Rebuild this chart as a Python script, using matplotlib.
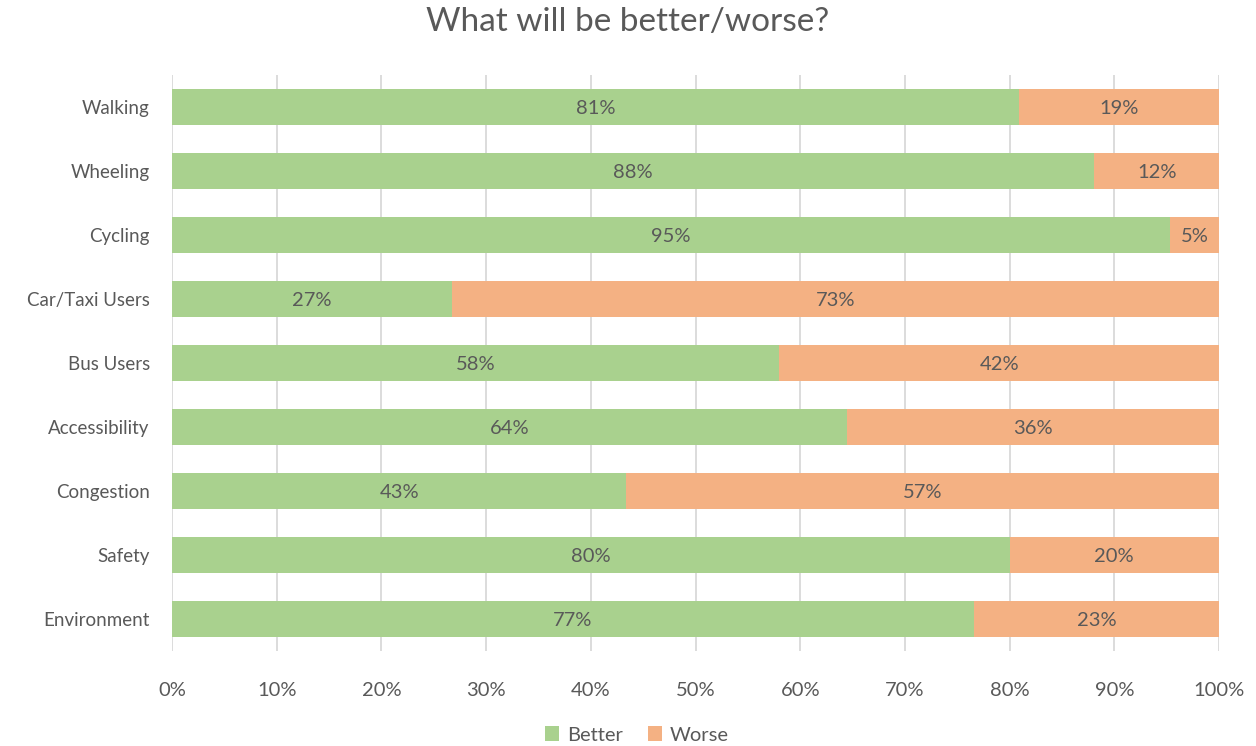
import matplotlib
matplotlib.use("Agg")
import matplotlib.pyplot as plt
from matplotlib.ticker import PercentFormatter

categories = ["Walking", "Wheeling", "Cycling", "Car/Taxi Users", "Bus Users",
              "Accessibility", "Congestion", "Safety", "Environment"]
better = [0.809, 0.881, 0.953, 0.267, 0.580, 0.645, 0.434, 0.800, 0.766]
worse = [1 - b for b in better]
series_names = ["Better", "Worse"]
colors = ["#A9D18E", "#F4B183"]
xticks = [i / 10 for i in range(11)]

plt.rcParams['font.family'] = ['Lato', 'DejaVu Sans']
txt = "#595959"

fig = plt.figure(figsize=(12.56, 7.46), dpi=100)
ax = fig.add_axes([172 / 1256, 1 - 651 / 746, (1219 - 172) / 1256, 576 / 746])

y = list(range(len(categories)))
h = 0.55
b1 = ax.barh(y, better, height=h, color=colors[0], label=series_names[0], zorder=2)
b2 = ax.barh(y, worse, left=better, height=h, color=colors[1], label=series_names[1], zorder=2)

for bars in (b1, b2):
    for r in bars:
        w = r.get_width()
        ax.text(r.get_x() + w / 2, r.get_y() + r.get_height() / 2 + 0.03, f"{round(w * 100):.0f}%",
                ha="center", va="center", fontsize=14.5, color=txt, zorder=3)

ax.set_ylim(len(categories) - 0.5, -0.5)
ax.set_xlim(0, 1)
ax.set_yticks(y)
ax.set_yticklabels(categories)
ax.set_xticks(xticks)
ax.xaxis.set_major_formatter(PercentFormatter(1.0, decimals=0))
ax.tick_params(axis="both", length=0, colors=txt)
ax.tick_params(axis="y", pad=16, labelsize=13.5)
ax.tick_params(axis="x", pad=22, labelsize=14.5)
ax.grid(axis="x", color="#D9D9D9", linewidth=1.3, zorder=0)
for s in ax.spines.values():
    s.set_visible(False)

fig.suptitle("What will be better/worse?", y=0.99, fontsize=24, color=txt)

fig.legend(handles=[b1, b2], labels=series_names, loc="center",
           bbox_to_anchor=(637 / 1256, 1 - 735 / 746), ncol=2, frameon=False,
           fontsize=14.5, labelcolor=txt, handlelength=0.7, handleheight=0.7,
           columnspacing=1.2, handletextpad=0.4)

fig.savefig("out.png", dpi=100)
